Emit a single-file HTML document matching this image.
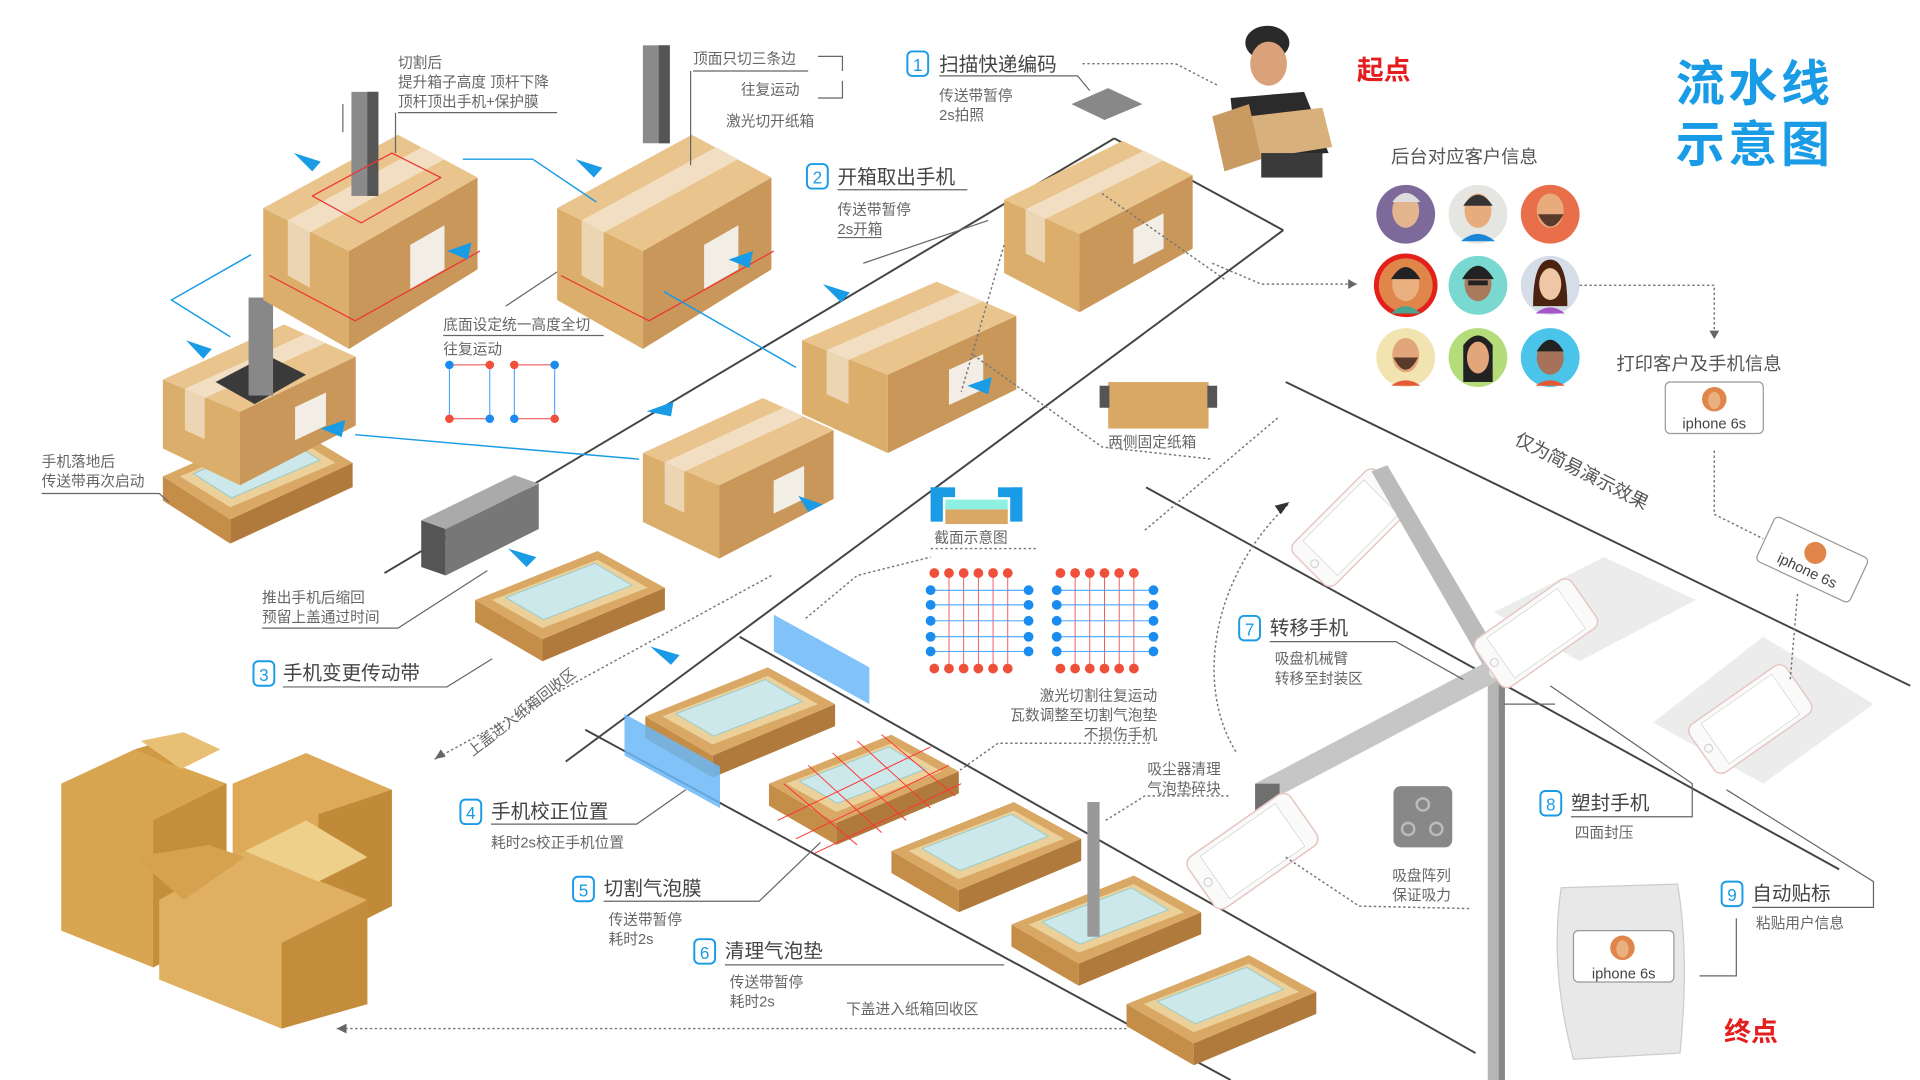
<!DOCTYPE html>
<html><head><meta charset="utf-8"><style>
html,body{margin:0;padding:0;background:#fff;width:1920px;height:1080px;overflow:hidden}
svg{display:block}
text{font-family:"Liberation Sans","Noto Sans CJK SC",sans-serif;fill:#555}
.t{font-size:16px;fill:#444}
.s{font-size:12px;fill:#666}
.n{font-size:14px;fill:#1a9be6}
.ln{stroke:#666;stroke-width:1;fill:none}
.dl{stroke:#777;stroke-width:1.2;fill:none;stroke-dasharray:2 2}
.cv{stroke:#444;stroke-width:1.6;fill:none}
.bl{stroke:#1a9be6;stroke-width:1.2;fill:none}
</style></head><body>
<svg width="1920" height="1080" viewBox="0 0 1568 882" xmlns="http://www.w3.org/2000/svg">
<defs>
<g id="box">
 <polygon points="0,60 70,95 70,175 0,135" fill="#dcae6c"/>
 <polygon points="70,95 175,35 175,110 70,175" fill="#c9975a"/>
 <polygon points="0,60 110,0 175,35 70,95" fill="#e9c48c"/>
 <polygon points="20,70 130,10 148,20 38,80" fill="#f3e4cc" opacity=".85"/>
 <polygon points="20,70 38,80 38,125 20,115" fill="#efdfc4" opacity=".8"/>
 <polygon points="120,90 148,74 148,110 120,126" fill="#f2eee6"/>
</g>
<g id="tray">
 <polygon points="0,40 55,72 55,90 0,58" fill="#c48d48"/>
 <polygon points="55,72 155,30 155,48 55,90" fill="#b07a3c"/>
 <polygon points="0,40 100,0 155,30 55,72" fill="#d9a865"/>
 <polygon points="14,40 100,7 141,30 55,63" fill="#ecd09a"/>
 <polygon points="25,38 98,10 128,28 56,56" fill="#cde8ea" stroke="#9cc" stroke-width=".8"/>
</g>
<g id="phone">
 <rect x="0" y="0" width="60" height="120" rx="9" fill="#fafafa" stroke="#e6c7c2" stroke-width="1.5"/>
 <rect x="5" y="16" width="50" height="88" fill="#fff" stroke="#ccc" stroke-width=".6"/>
 <circle cx="30" cy="112" r="4" fill="none" stroke="#ccc"/>
</g>
<g id="bn"><rect x="0" y="0" width="17" height="20" rx="4" fill="#fff" stroke="#1a9be6" stroke-width="1.6"/></g>
</defs>

<!-- conveyor lines -->
<line x1="314" y1="468" x2="910" y2="113" class="cv"/>
<line x1="910" y1="113" x2="1048" y2="188" class="cv"/>
<line x1="1048" y1="188" x2="462" y2="622" class="cv"/>
<line x1="478" y1="596" x2="1005" y2="882" class="cv"/>
<line x1="604" y1="520" x2="1205" y2="860" class="cv"/>
<line x1="1050" y1="312" x2="1560" y2="560" class="cv"/>
<line x1="936" y1="398" x2="1502" y2="710" class="cv"/>

<!-- boxes -->
<use href="#tray" transform="translate(133,345) scale(1,1.1)"/>
<use href="#box" transform="translate(133,265) scale(0.9,0.75)"/>
<polygon points="176,312 218,290 250,306 208,330" fill="#3a3a3a"/>
<rect x="203" y="243" width="20" height="80" fill="#888"/>
<use href="#box" transform="translate(215,110)"/>
<rect x="287" y="75" width="22" height="85" fill="#8a8a8a"/><rect x="300" y="75" width="9" height="85" fill="#555"/>
<use href="#box" transform="translate(455,110)"/>
<rect x="525" y="37" width="22" height="80" fill="#8a8a8a"/><rect x="538" y="37" width="9" height="80" fill="#555"/>
<use href="#box" transform="translate(820,115) scale(0.88,0.8)"/>
<use href="#box" transform="translate(655,230) scale(1,0.8)"/>
<use href="#box" transform="translate(525,325) scale(0.89,0.75)"/>
<g stroke="#e33" stroke-width="1" fill="none"><polyline points="220,225 290,262 392,205"/><polyline points="458,225 530,262 632,205"/><polyline points="255,160 320,125 360,145 295,182 255,160"/></g>

<!-- grey pusher -->
<polygon points="344,425 420,388 440,395 364,432" fill="#aaa"/>
<polygon points="344,425 364,432 364,470 344,463" fill="#555"/>
<polygon points="364,432 440,395 440,432 364,470" fill="#777"/>

<!-- trays -->
<use href="#tray" transform="translate(388,450)"/>
<use href="#tray" transform="translate(527,545)"/>
<use href="#tray" transform="translate(628,600)"/>
<use href="#tray" transform="translate(728,655)"/>
<use href="#tray" transform="translate(826,715)"/>
<use href="#tray" transform="translate(920,780)"/>
<g stroke="#f33" stroke-width=".8"><line x1="640" y1="640" x2="700" y2="690"/><line x1="660" y1="625" x2="720" y2="680"/><line x1="680" y1="615" x2="740" y2="670"/><line x1="700" y1="605" x2="760" y2="660"/><line x1="720" y1="600" x2="780" y2="650"/><line x1="635" y1="670" x2="760" y2="610"/><line x1="650" y1="685" x2="775" y2="625"/><line x1="665" y1="697" x2="785" y2="640"/></g>
<polygon points="632,502 710,545 710,575 632,532" fill="#6bb7f7" opacity=".85"/>
<polygon points="510,583 588,626 588,660 510,617" fill="#6bb7f7" opacity=".85"/>
<rect x="888" y="655" width="10" height="110" fill="#999"/>

<!-- blue arrows -->
<g fill="#1a9be6"><polygon points="240,125 262,132 255,140"/><polygon points="470,130 492,137 485,145"/><polygon points="152,278 173,285 166,293"/><polygon points="672,232 694,239 687,247"/><polygon points="415,448 438,455 430,463"/><polygon points="531,528 555,535 548,543"/><polygon points="365,205 385,198 382,212"/><polygon points="595,212 615,205 612,219"/><polygon points="790,315 810,308 807,322"/><polygon points="262,350 282,343 279,357"/><polygon points="652,405 672,412 660,418"/><polygon points="528,336 550,328 548,340"/></g>
<g class="bl"><polyline points="205,208 140,245 188,275"/><line x1="290" y1="355" x2="522" y2="375"/><polyline points="378,130 435,130 487,165"/><line x1="542" y1="238" x2="650" y2="300"/></g>

<!-- scanner plate -->
<polygon points="875,85 905,72 933,85 902,98" fill="#888"/>

<!-- cross section -->
<rect x="760" y="398" width="10" height="28" fill="#1a9be6"/><rect x="825" y="398" width="10" height="28" fill="#1a9be6"/>
<rect x="760" y="398" width="20" height="8" fill="#1a9be6"/><rect x="815" y="398" width="20" height="8" fill="#1a9be6"/>
<rect x="772" y="408" width="51" height="8" fill="#8ef0e0"/><rect x="772" y="416" width="51" height="12" fill="#d9a865"/>

<!-- laser grids -->
<g>
<g stroke="#e44" stroke-width=".7"><line x1="775" y1="470" x2="775" y2="545"/><line x1="787" y1="470" x2="787" y2="545"/><line x1="799" y1="470" x2="799" y2="545"/><line x1="811" y1="470" x2="811" y2="545"/><line x1="823" y1="470" x2="823" y2="545"/><line x1="878" y1="470" x2="878" y2="545"/><line x1="890" y1="470" x2="890" y2="545"/><line x1="902" y1="470" x2="902" y2="545"/><line x1="914" y1="470" x2="914" y2="545"/><line x1="926" y1="470" x2="926" y2="545"/></g>
<g stroke="#39f" stroke-width=".8"><line x1="762" y1="482" x2="838" y2="482"/><line x1="762" y1="494" x2="838" y2="494"/><line x1="762" y1="507" x2="838" y2="507"/><line x1="762" y1="520" x2="838" y2="520"/><line x1="762" y1="532" x2="838" y2="532"/><line x1="864" y1="482" x2="941" y2="482"/><line x1="864" y1="494" x2="941" y2="494"/><line x1="864" y1="507" x2="941" y2="507"/><line x1="864" y1="520" x2="941" y2="520"/><line x1="864" y1="532" x2="941" y2="532"/></g>
<g fill="#f0503a"><circle cx="763" cy="468" r="4"/><circle cx="775" cy="468" r="4"/><circle cx="787" cy="468" r="4"/><circle cx="799" cy="468" r="4"/><circle cx="811" cy="468" r="4"/><circle cx="823" cy="468" r="4"/><circle cx="763" cy="546" r="4"/><circle cx="775" cy="546" r="4"/><circle cx="787" cy="546" r="4"/><circle cx="799" cy="546" r="4"/><circle cx="811" cy="546" r="4"/><circle cx="823" cy="546" r="4"/><circle cx="866" cy="468" r="4"/><circle cx="878" cy="468" r="4"/><circle cx="890" cy="468" r="4"/><circle cx="902" cy="468" r="4"/><circle cx="914" cy="468" r="4"/><circle cx="926" cy="468" r="4"/><circle cx="866" cy="546" r="4"/><circle cx="878" cy="546" r="4"/><circle cx="890" cy="546" r="4"/><circle cx="902" cy="546" r="4"/><circle cx="914" cy="546" r="4"/><circle cx="926" cy="546" r="4"/></g>
<g fill="#1a8cf0"><circle cx="760" cy="482" r="4"/><circle cx="760" cy="494" r="4"/><circle cx="760" cy="507" r="4"/><circle cx="760" cy="520" r="4"/><circle cx="760" cy="532" r="4"/><circle cx="840" cy="482" r="4"/><circle cx="840" cy="494" r="4"/><circle cx="840" cy="507" r="4"/><circle cx="840" cy="520" r="4"/><circle cx="840" cy="532" r="4"/><circle cx="863" cy="482" r="4"/><circle cx="863" cy="494" r="4"/><circle cx="863" cy="507" r="4"/><circle cx="863" cy="520" r="4"/><circle cx="863" cy="532" r="4"/><circle cx="942" cy="482" r="4"/><circle cx="942" cy="494" r="4"/><circle cx="942" cy="507" r="4"/><circle cx="942" cy="520" r="4"/><circle cx="942" cy="532" r="4"/></g>
</g>
<!-- small motion diagram -->
<g stroke="#39f" stroke-width=".8"><line x1="367" y1="298" x2="367" y2="342"/><line x1="400" y1="298" x2="400" y2="342"/><line x1="420" y1="298" x2="420" y2="342"/><line x1="453" y1="298" x2="453" y2="342"/></g>
<g stroke="#e44" stroke-width=".8"><line x1="367" y1="298" x2="400" y2="298"/><line x1="367" y1="342" x2="400" y2="342"/><line x1="420" y1="298" x2="453" y2="298"/><line x1="420" y1="342" x2="453" y2="342"/></g>
<g fill="#1a8cf0"><circle cx="367" cy="298" r="3.5"/><circle cx="400" cy="342" r="3.5"/><circle cx="420" cy="342" r="3.5"/><circle cx="453" cy="298" r="3.5"/></g>
<g fill="#f0503a"><circle cx="400" cy="298" r="3.5"/><circle cx="367" cy="342" r="3.5"/><circle cx="420" cy="298" r="3.5"/><circle cx="453" cy="342" r="3.5"/></g>

<!-- fixing box -->
<rect x="905" y="312" width="82" height="38" fill="#d9a865"/><rect x="898" y="315" width="8" height="18" fill="#555"/><rect x="986" y="315" width="8" height="18" fill="#555"/>

<!-- robot arm & phones -->
<use href="#phone" transform="translate(1120,380) rotate(45) scale(.8)"/>
<polygon points="1120,385 1133,380 1230,545 1215,550" fill="#bbb"/>
<rect x="1215" y="545" width="14" height="337" fill="#b5b5b5"/><rect x="1224" y="545" width="5" height="337" fill="#888"/>
<polygon points="1025,640 1215,540 1225,555 1035,655" fill="#c6c6c6"/>
<rect x="1025" y="640" width="20" height="50" fill="#6f6f6f"/>
<circle cx="1222" cy="548" r="6" fill="#eee"/>
<use href="#phone" transform="translate(1050,645) rotate(55) scale(.85)"/>
<rect x="1138" y="642" width="48" height="50" rx="6" fill="#888"/>
<g fill="none" stroke="#bbb" stroke-width="2"><circle cx="1162" cy="657" r="5"/><circle cx="1150" cy="677" r="5"/><circle cx="1173" cy="677" r="5"/></g>
<polygon points="1220,500 1310,455 1385,490 1290,540" fill="#ececec"/>
<use href="#phone" transform="translate(1280,470) rotate(55) scale(.8)"/>
<polygon points="1350,590 1440,520 1530,575 1440,640" fill="#ececec"/>
<use href="#phone" transform="translate(1455,540) rotate(55) scale(.8)"/>
<path d="M1052,412 C990,470 975,560 1010,615" class="dl" stroke-width="2" stroke="#333"/>
<polygon points="1053,410 1046,420 1041,413" fill="#333"/>

<!-- delivery man -->
<ellipse cx="1035" cy="35" rx="18" ry="14" fill="#2a2a2a"/>
<ellipse cx="1036" cy="52" rx="15" ry="18" fill="#d9a27a"/>
<path d="M1005,80 L1065,75 L1085,125 L1010,130 Z" fill="#2b2b2b"/>
<polygon points="1020,95 1080,88 1088,120 1025,130" fill="#d8b07c"/>
<polygon points="990,95 1020,85 1030,130 1000,140" fill="#c99a62"/>
<rect x="1030" y="125" width="50" height="20" fill="#3a3a3a"/>

<!-- avatars -->
<g>
<circle cx="1148" cy="175" r="24" fill="#7e6a9a"/><ellipse cx="1148" cy="172" rx="11" ry="14" fill="#e2b58f"/><path d="M1137,165 Q1148,150 1160,165" fill="#ddd"/>
<circle cx="1207" cy="175" r="24" fill="#e5e5e2"/><ellipse cx="1207" cy="172" rx="11" ry="14" fill="#e8ab7c"/><path d="M1195,168 Q1207,150 1219,168" fill="#333"/><path d="M1193,197 Q1207,185 1221,197 Z" fill="#1a86d8"/>
<circle cx="1266" cy="175" r="24" fill="#e86f4a"/><ellipse cx="1266" cy="172" rx="11" ry="14" fill="#e8ab7c"/><path d="M1256,175 Q1266,195 1277,175" fill="#5a3a2a"/>
<circle cx="1148" cy="233" r="26" fill="#e4201a"/><circle cx="1148" cy="233" r="22" fill="#e0864a"/><ellipse cx="1148" cy="232" rx="11" ry="14" fill="#eab080"/><path d="M1136,228 Q1148,208 1160,228 Z" fill="#222"/><path d="M1136,256 Q1148,244 1160,256 Z" fill="#4aa58e"/>
<circle cx="1207" cy="233" r="24" fill="#79d8d0"/><ellipse cx="1207" cy="232" rx="11" ry="14" fill="#a97a5c"/><path d="M1194,228 Q1207,206 1220,228 Z" fill="#222"/><rect x="1199" y="229" width="16" height="4" fill="#222"/>
<circle cx="1266" cy="233" r="24" fill="#d5dde8"/><path d="M1252,250 Q1252,212 1266,212 Q1280,212 1280,250 Z" fill="#4a2410"/><ellipse cx="1266" cy="232" rx="9" ry="13" fill="#efc6a6"/><path d="M1254,256 Q1266,246 1278,256 Z" fill="#a455c8"/>
<circle cx="1148" cy="292" r="24" fill="#f2e4b0"/><ellipse cx="1148" cy="290" rx="11" ry="14" fill="#e3a67a"/><path d="M1138,292 Q1148,312 1158,292" fill="#5a3a2a"/><path d="M1136,315 Q1148,306 1160,315 Z" fill="#e35a35"/>
<circle cx="1207" cy="292" r="24" fill="#b5dc7a"/><path d="M1195,312 L1195,282 Q1207,266 1219,282 L1219,312 Z" fill="#222"/><ellipse cx="1207" cy="292" rx="9" ry="13" fill="#e3a67a"/>
<circle cx="1266" cy="292" r="24" fill="#4ac4e8"/><ellipse cx="1266" cy="292" rx="11" ry="14" fill="#a6735a"/><path d="M1255,287 Q1266,268 1277,287 Z" fill="#222"/><path d="M1254,315 Q1266,306 1278,315 Z" fill="#e35a35"/>
</g>

<!-- print card -->
<rect x="1360" y="312" width="80" height="42" rx="4" fill="#fff" stroke="#999"/>
<circle cx="1400" cy="326" r="10" fill="#e0864a"/><ellipse cx="1400" cy="327" rx="5" ry="7" fill="#eab080"/>
<text x="1400" y="350" text-anchor="middle" style="font-size:12px;fill:#444">iphone 6s</text>
<g transform="translate(1480,457) rotate(25)"><rect x="-42" y="-20" width="84" height="40" rx="4" fill="#fff" stroke="#999"/><circle cx="0" cy="-6" r="9" fill="#e0864a"/><text x="0" y="14" text-anchor="middle" style="font-size:12px;fill:#444">iphone 6s</text></g>

<!-- bag -->
<path d="M1275,725 L1370,722 Q1380,780 1372,860 L1285,865 Q1265,790 1275,725 Z" fill="#e8e8e8" stroke="#ccc"/>
<rect x="1285" y="760" width="82" height="42" rx="4" fill="#fff" stroke="#999"/>
<circle cx="1325" cy="774" r="10" fill="#e0864a"/><ellipse cx="1325" cy="775" rx="5" ry="7" fill="#eab080"/>
<text x="1326" y="799" text-anchor="middle" style="font-size:12px;fill:#444">iphone 6s</text>

<!-- cardboard pile -->
<g>
<polygon points="50,640 110,612 185,640 185,760 125,790 50,760" fill="#d8a651"/>
<polygon points="125,670 185,640 185,760 125,790" fill="#c48e3a"/>
<polygon points="110,612 150,600 175,610 140,625" fill="#d09a45"/>
<polygon points="190,640 250,615 320,645 320,740 260,770 190,740" fill="#dcaa58"/>
<polygon points="260,665 320,645 320,740 260,770" fill="#c08a38"/>
<polygon points="130,735 200,695 300,735 300,820 230,840 130,800" fill="#e0b062"/>
<polygon points="230,770 300,735 300,820 230,840" fill="#c38d3b"/>
<polygon points="200,695 250,670 300,700 260,720" fill="#efd08a"/>
<polygon points="150,735 110,700 170,690 200,700" fill="#d6a24f"/>
<polygon points="115,605 150,598 180,612 148,628" fill="#e8c075"/>
</g>

<!-- titles -->
<text x="1433" y="82" text-anchor="middle" style="font-size:40px;font-weight:bold;fill:#1a9be6;letter-spacing:3px">流水线</text>
<text x="1433" y="132" text-anchor="middle" style="font-size:40px;font-weight:bold;fill:#1a9be6;letter-spacing:3px">示意图</text>
<text x="1108" y="65" style="font-size:22px;font-weight:bold;fill:#e41e1e">起点</text>
<text x="1408" y="850" style="font-size:22px;font-weight:bold;fill:#e41e1e">终点</text>
<text x="1136" y="133" style="font-size:15px;fill:#555">后台对应客户信息</text>
<text x="1320" y="302" style="font-size:15px;fill:#555">打印客户及手机信息</text>
<text transform="translate(1236,362) rotate(27)" style="font-size:15px;fill:#555">仅为简易演示效果</text>

<!-- steps -->
<use href="#bn" x="741" y="42"/><text x="749.5" y="58" text-anchor="middle" class="n">1</text>
<text x="767" y="58" class="t">扫描快递编码</text>
<text x="767" y="82" class="s">传送带暂停</text><text x="767" y="98" class="s">2s拍照</text>
<use href="#bn" x="659" y="134"/><text x="667.5" y="150" text-anchor="middle" class="n">2</text>
<text x="684" y="150" class="t">开箱取出手机</text>
<text x="684" y="175" class="s">传送带暂停</text><text x="684" y="191" class="s">2s开箱</text>
<use href="#bn" x="207" y="540"/><text x="215.5" y="556" text-anchor="middle" class="n">3</text>
<text x="231" y="555" class="t">手机变更传动带</text>
<use href="#bn" x="376" y="653"/><text x="384.5" y="669" text-anchor="middle" class="n">4</text>
<text x="401" y="668" class="t">手机校正位置</text><text x="401" y="692" class="s">耗时2s校正手机位置</text>
<use href="#bn" x="468" y="716"/><text x="476.5" y="732" text-anchor="middle" class="n">5</text>
<text x="493" y="731" class="t">切割气泡膜</text><text x="497" y="755" class="s">传送带暂停</text><text x="497" y="771" class="s">耗时2s</text>
<use href="#bn" x="567" y="767"/><text x="575.5" y="783" text-anchor="middle" class="n">6</text>
<text x="592" y="782" class="t">清理气泡垫</text><text x="596" y="806" class="s">传送带暂停</text><text x="596" y="822" class="s">耗时2s</text>
<text x="691" y="828" class="s">下盖进入纸箱回收区</text>
<use href="#bn" x="1012" y="503"/><text x="1020.5" y="519" text-anchor="middle" class="n">7</text>
<text x="1037" y="518" class="t">转移手机</text><text x="1041" y="542" class="s">吸盘机械臂</text><text x="1041" y="558" class="s">转移至封装区</text>
<use href="#bn" x="1258" y="646"/><text x="1266.5" y="662" text-anchor="middle" class="n">8</text>
<text x="1283" y="661" class="t">塑封手机</text><text x="1286" y="684" class="s">四面封压</text>
<use href="#bn" x="1406" y="720"/><text x="1414.5" y="736" text-anchor="middle" class="n">9</text>
<text x="1431" y="735" class="t">自动贴标</text><text x="1434" y="758" class="s">粘贴用户信息</text>

<!-- small labels -->
<text x="325" y="55" class="s">切割后</text>
<text x="325" y="71" class="s">提升箱子高度 顶杆下降</text>
<text x="325" y="87" class="s">顶杆顶出手机+保护膜</text>
<text x="566" y="52" class="s">顶面只切三条边</text>
<text x="605" y="77" class="s">往复运动</text>
<text x="593" y="103" class="s">激光切开纸箱</text>
<text x="362" y="269" class="s">底面设定统一高度全切</text>
<text x="362" y="289" class="s">往复运动</text>
<text x="34" y="381" class="s">手机落地后</text>
<text x="34" y="397" class="s">传送带再次启动</text>
<text x="214" y="492" class="s">推出手机后缩回</text>
<text x="214" y="508" class="s">预留上盖通过时间</text>
<text x="905" y="365" class="s">两侧固定纸箱</text>
<text x="763" y="443" class="s">截面示意图</text>
<text x="945" y="572" text-anchor="end" class="s">激光切割往复运动</text>
<text x="945" y="588" text-anchor="end" class="s">瓦数调整至切割气泡垫</text>
<text x="945" y="604" text-anchor="end" class="s">不损伤手机</text>
<text x="937" y="632" class="s">吸尘器清理</text>
<text x="937" y="648" class="s">气泡垫碎块</text>
<text x="1137" y="719" class="s">吸盘阵列</text>
<text x="1137" y="735" class="s">保证吸力</text>
<text transform="translate(386,618) rotate(-38)" class="s">上盖进入纸箱回收区</text>

<!-- leader lines -->
<g class="ln">
<polyline points="325,92 455,92"/><line x1="323" y1="92" x2="323" y2="125"/>
<polyline points="566,58 660,58"/><line x1="564" y1="58" x2="564" y2="135"/>
<polyline points="668,46 688,46 688,58"/><polyline points="668,80 688,80 688,66"/>
<line x1="280" y1="85" x2="280" y2="108"/>
<polyline points="362,274 493,274"/><line x1="413" y1="250" x2="455" y2="222"/>
<polyline points="767,62 880,62 890,74"/><polyline points="684,155 790,155"/>
<polyline points="684,194 720,194"/><line x1="807" y1="180" x2="705" y2="215"/>
<polyline points="34,403 130,403 138,410"/>
<polyline points="214,513 325,513 398,466"/>
<polyline points="231,561 365,561 402,538"/>
<polyline points="401,673 520,673 560,645"/>
<polyline points="493,736 620,736 670,688"/>
<polyline points="592,788 820,788"/>
<polyline points="1037,524 1140,524 1195,555"/>
<polyline points="1283,667 1382,667 1382,640 1266,560"/>
<polyline points="1431,741 1530,741 1530,720 1410,645"/>
<polyline points="1418,750 1418,797 1388,797"/>
<line x1="1228" y1="575" x2="1270" y2="575"/>
</g>
<g class="dl">
<polyline points="884,52 960,52 995,70"/>
<polyline points="990,215 1030,232 1108,232"/>
<polyline points="1290,233 1400,233 1400,272"/>
<polyline points="1400,368 1400,420 1440,440"/>
<polyline points="1468,485 1462,555"/>
<polyline points="795,290 900,365 990,375"/>
<polyline points="630,470 355,620"/>
<polyline points="760,448 848,448"/>
<polyline points="658,505 700,470 760,455"/>
<polyline points="784,629 815,607 940,607"/>
<polyline points="903,670 935,650 1005,650"/>
<polyline points="1050,700 1110,740 1200,742"/>
<polyline points="935,433 1045,340"/>
<polyline points="920,840 275,840"/>
<line x1="820" y1="200" x2="785" y2="320"/>
<line x1="900" y1="158" x2="1000" y2="228"/>
</g>
<g fill="#666"><polygon points="275,840 283,836 283,844"/><polygon points="355,620 360,612 364,618"/><polygon points="1108,232 1101,228 1101,236"/><polygon points="1400,277 1396,270 1404,270"/></g>
</svg>
</body></html>
